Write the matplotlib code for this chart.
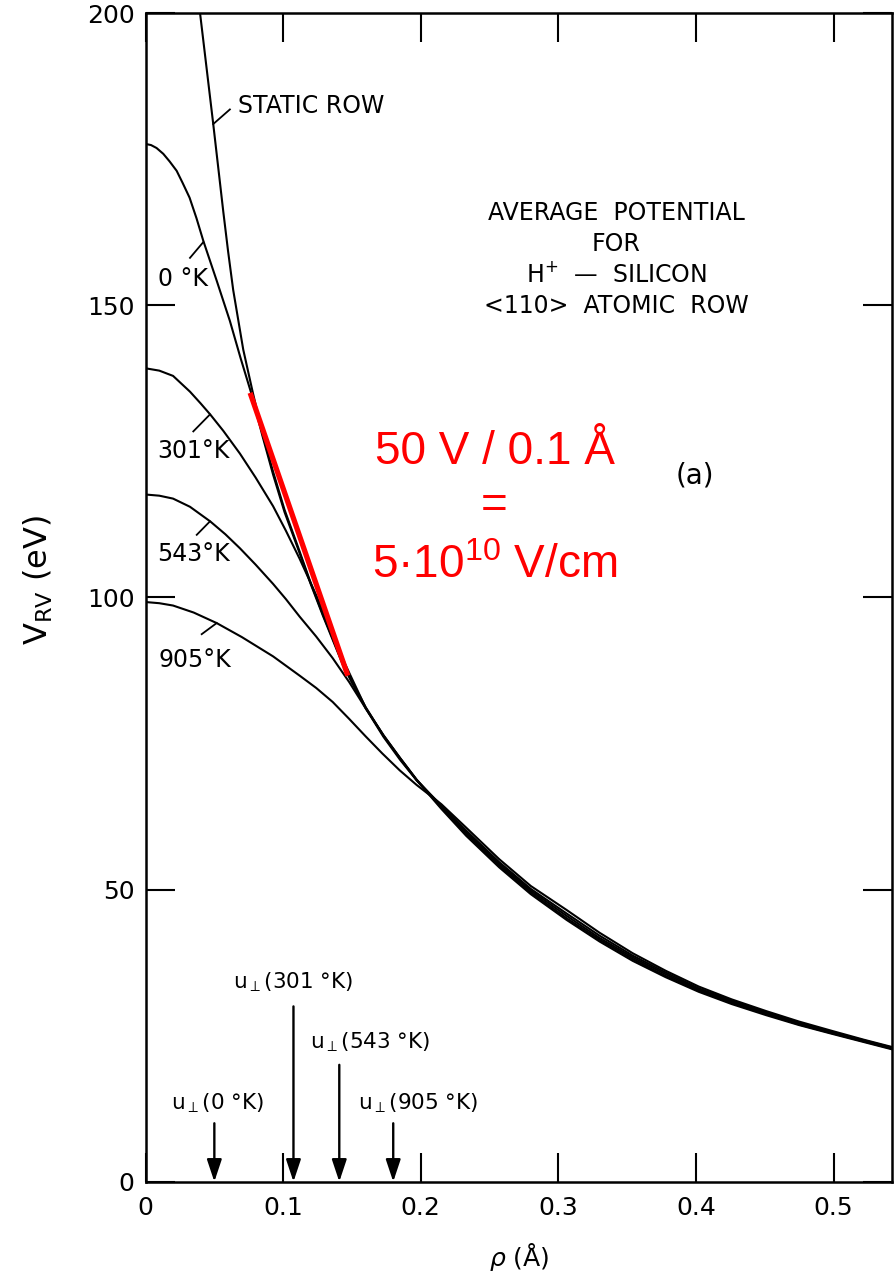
import matplotlib
matplotlib.use('Agg')
import matplotlib.pyplot as plt

# ---------------- data ----------------
rho_static = [0.0396, 0.0445, 0.0492, 0.0530, 0.0565, 0.0600, 0.0637, 0.071, 0.078, 0.085, 0.0927, 0.101, 0.111,
              0.120, 0.129, 0.1435, 0.150, 0.160, 0.173, 0.185, 0.197, 0.215, 0.233, 0.257, 0.280, 0.306, 0.330,
              0.354, 0.378, 0.402, 0.426, 0.451, 0.475, 0.499, 0.522, 0.545]
V_static = [200.0, 190.3, 181.0, 173.2, 166.0, 159.2, 152.6, 142.4, 135.0, 128.0, 121.5, 115.0, 108.5,
            102.5, 97.0, 88.6, 85.6, 81.2, 76.3, 72.4, 68.7, 63.8, 59.2, 53.8, 49.2, 44.8, 41.1,
            37.8, 35.0, 32.5, 30.4, 28.5, 26.8, 25.3, 23.9, 22.5]

rho_0K = [0.0, 0.004, 0.008, 0.0129, 0.0175, 0.0226, 0.027, 0.032, 0.037, 0.042, 0.0517, 0.0613, 0.069, 0.077,
          0.085, 0.0927, 0.101, 0.111, 0.120, 0.129, 0.1435, 0.150, 0.160, 0.173, 0.185, 0.197, 0.215, 0.233,
          0.257, 0.280, 0.306, 0.330, 0.354, 0.378, 0.402, 0.426, 0.451, 0.475, 0.499, 0.522, 0.545]
V_0K = [177.6, 177.4, 176.9, 175.9, 174.6, 173.0, 170.9, 168.4, 164.9, 161.0, 154.2, 147.3, 141.0, 134.8,
        127.6, 121.0, 114.6, 108.2, 102.3, 96.8, 88.4, 85.4, 81.0, 76.4, 72.5, 68.8, 64.0, 59.5,
        54.1, 49.5, 45.1, 41.4, 38.1, 35.2, 32.7, 30.6, 28.7, 26.9, 25.4, 24.0, 22.6]

rho_301 = [0.0, 0.010, 0.020, 0.0323, 0.040, 0.047, 0.0565, 0.0686, 0.080, 0.0927, 0.102, 0.112, 0.124, 0.136,
           0.145, 0.151, 0.160, 0.173, 0.185, 0.197, 0.215, 0.233, 0.257, 0.280, 0.306, 0.330,
           0.354, 0.378, 0.402, 0.426, 0.451, 0.475, 0.499, 0.522, 0.545]
V_301 = [139.2, 138.8, 137.9, 135.2, 133.2, 131.3, 128.5, 124.6, 120.5, 115.6, 111.4, 106.6, 100.4, 93.6,
         88.6, 85.6, 81.1, 76.3, 72.5, 68.8, 64.2, 59.8, 54.4, 49.8, 45.5, 41.7,
         38.4, 35.5, 32.9, 30.8, 28.9, 27.1, 25.5, 24.1, 22.7]

rho_543 = [0.0, 0.010, 0.020, 0.0323, 0.047, 0.058, 0.0686, 0.080, 0.0927, 0.102, 0.112, 0.124, 0.136, 0.148,
           0.160, 0.173, 0.185, 0.197, 0.215, 0.233, 0.257, 0.280, 0.306, 0.330,
           0.354, 0.378, 0.402, 0.426, 0.451, 0.475, 0.499, 0.522, 0.545]
V_543 = [117.6, 117.4, 116.9, 115.5, 113.0, 110.8, 108.4, 105.6, 102.3, 99.7, 96.7, 93.3, 89.6, 85.5,
         81.0, 76.1, 72.2, 68.7, 64.4, 60.1, 54.7, 50.1, 45.9, 42.1,
         38.7, 35.8, 33.1, 31.0, 29.0, 27.2, 25.6, 24.2, 22.8]

rho_905 = [0.0, 0.010, 0.020, 0.035, 0.0517, 0.070, 0.0927, 0.112, 0.124, 0.136, 0.148, 0.160, 0.172, 0.1847,
           0.197, 0.215, 0.233, 0.257, 0.280, 0.306, 0.330,
           0.354, 0.378, 0.402, 0.426, 0.451, 0.475, 0.499, 0.522, 0.545]
V_905 = [99.2, 99.0, 98.6, 97.4, 95.6, 93.2, 89.9, 86.6, 84.5, 82.1, 79.2, 76.2, 73.3, 70.4,
         67.9, 64.6, 60.6, 55.2, 50.6, 46.5, 42.6,
         39.1, 36.1, 33.4, 31.2, 29.2, 27.4, 25.8, 24.3, 22.9]

tangent_rho = [0.076, 0.147]
tangent_V = [135.0, 86.6]

# arrows: position and top value
u_rho = [0.050, 0.1075, 0.1408, 0.180]
u_top = [10, 30, 20, 10]
u_labels = ['u$_{\\perp}$(0 °K)', 'u$_{\\perp}$(301 °K)', 'u$_{\\perp}$(543 °K)', 'u$_{\\perp}$(905 °K)']
u_label_pos = [(0.052, 13.4), (0.107, 34.1), (0.163, 23.9), (0.198, 13.4)]

x_ticks = [0, 0.1, 0.2, 0.3, 0.4, 0.5]
x_tick_labels = ['0', '0.1', '0.2', '0.3', '0.4', '0.5']
y_ticks = [0, 50, 100, 150, 200]
y_tick_labels = ['0', '50', '100', '150', '200']

# curve labels with leader strokes
curve_labels = ['STATIC ROW', '0 °K', '301°K', '543°K', '905°K']
curve_label_pos = [(0.0671, 184.1), (0.0091, 154.5), (0.0083, 125.1), (0.0083, 107.5), (0.0091, 89.2)]
leaders = [((0.0613, 183.5), (0.0492, 181.0)),
           ((0.0323, 158.1), (0.042, 160.8)),
           ((0.0347, 128.4), (0.0468, 131.3)),
           ((0.0372, 110.7), (0.0468, 113.0)),
           ((0.0408, 93.7), (0.0517, 95.6))]

title_lines = ['AVERAGE  POTENTIAL', 'FOR', 'H$^{+}$  —  SILICON', '<110>  ATOMIC  ROW']
title_y = [165.8, 160.5, 155.2, 149.9]

# ---------------- figure ----------------
plt.rcParams['font.family'] = ['DejaVu Sans']
plt.rcParams['mathtext.default'] = 'regular'
fig = plt.figure(figsize=(8.94, 12.76), dpi=100)
ax = fig.add_axes([0.1628, 0.0739, 0.8350, 0.9159])
ax.set_xlim(0, 0.5425)
ax.set_ylim(0, 200)

for r, v in [(rho_static, V_static), (rho_0K, V_0K), (rho_301, V_301), (rho_543, V_543), (rho_905, V_905)]:
    ax.plot(r, v, color='black', lw=1.5, solid_joinstyle='round')

ax.plot(tangent_rho, tangent_V, color='#ff0000', lw=3.8, solid_capstyle='butt', zorder=6)

for r, t in zip(u_rho, u_top):
    ax.annotate('', xy=(r, 0), xytext=(r, t),
                arrowprops=dict(arrowstyle='-|>,head_length=0.9,head_width=0.3', color='black',
                                lw=1.7, mutation_scale=15, shrinkA=0, shrinkB=0))
for lab, (x, y) in zip(u_labels, u_label_pos):
    ax.text(x, y, lab, fontsize=15.5, ha='center', va='center')

for lab, (x, y) in zip(curve_labels, curve_label_pos):
    ax.text(x, y, lab, fontsize=17, ha='left', va='center')
for (p0, p1) in leaders:
    ax.plot([p0[0], p1[0]], [p0[1], p1[1]], color='black', lw=1.3)

for line, y in zip(title_lines, title_y):
    ax.text(0.342, y, line, fontsize=17, ha='center', va='center')
ax.text(0.399, 120.9, '(a)', fontsize=20, ha='center', va='center')

ax.text(0.2536, 124.8, '50 V / 0.1 Å', fontsize=33, color='#ff0000', ha='center', va='center',
        family='Liberation Sans')
ax.text(0.2536, 115.7, '=', fontsize=33, color='#ff0000', ha='center', va='center', family='Liberation Sans')
ax.text(0.2536, 105.4, '5·10$^{10}$ V/cm', fontsize=33, color='#ff0000', ha='center', va='center',
        family='Liberation Sans')

ax.set_xticks(x_ticks)
ax.set_xticklabels(x_tick_labels)
ax.set_yticks(y_ticks)
ax.set_yticklabels(y_tick_labels)
ax.tick_params(direction='in', length=21, width=1.5, top=True, right=True, labelsize=18)
ax.tick_params(axis='x', pad=10)
ax.tick_params(axis='y', pad=8)
for s in ax.spines.values():
    s.set_linewidth(1.8)

fig.text(519 / 894, 1 - 1257 / 1276, r'$\it{\rho}$ (Å)', fontsize=18, ha='center', va='center')
fig.text(38 / 894, 1 - 580 / 1276, r'$\mathregular{V_{RV}}$ (eV)', fontsize=23, rotation=90,
         ha='center', va='center')

fig.savefig('out.png', dpi=100)
